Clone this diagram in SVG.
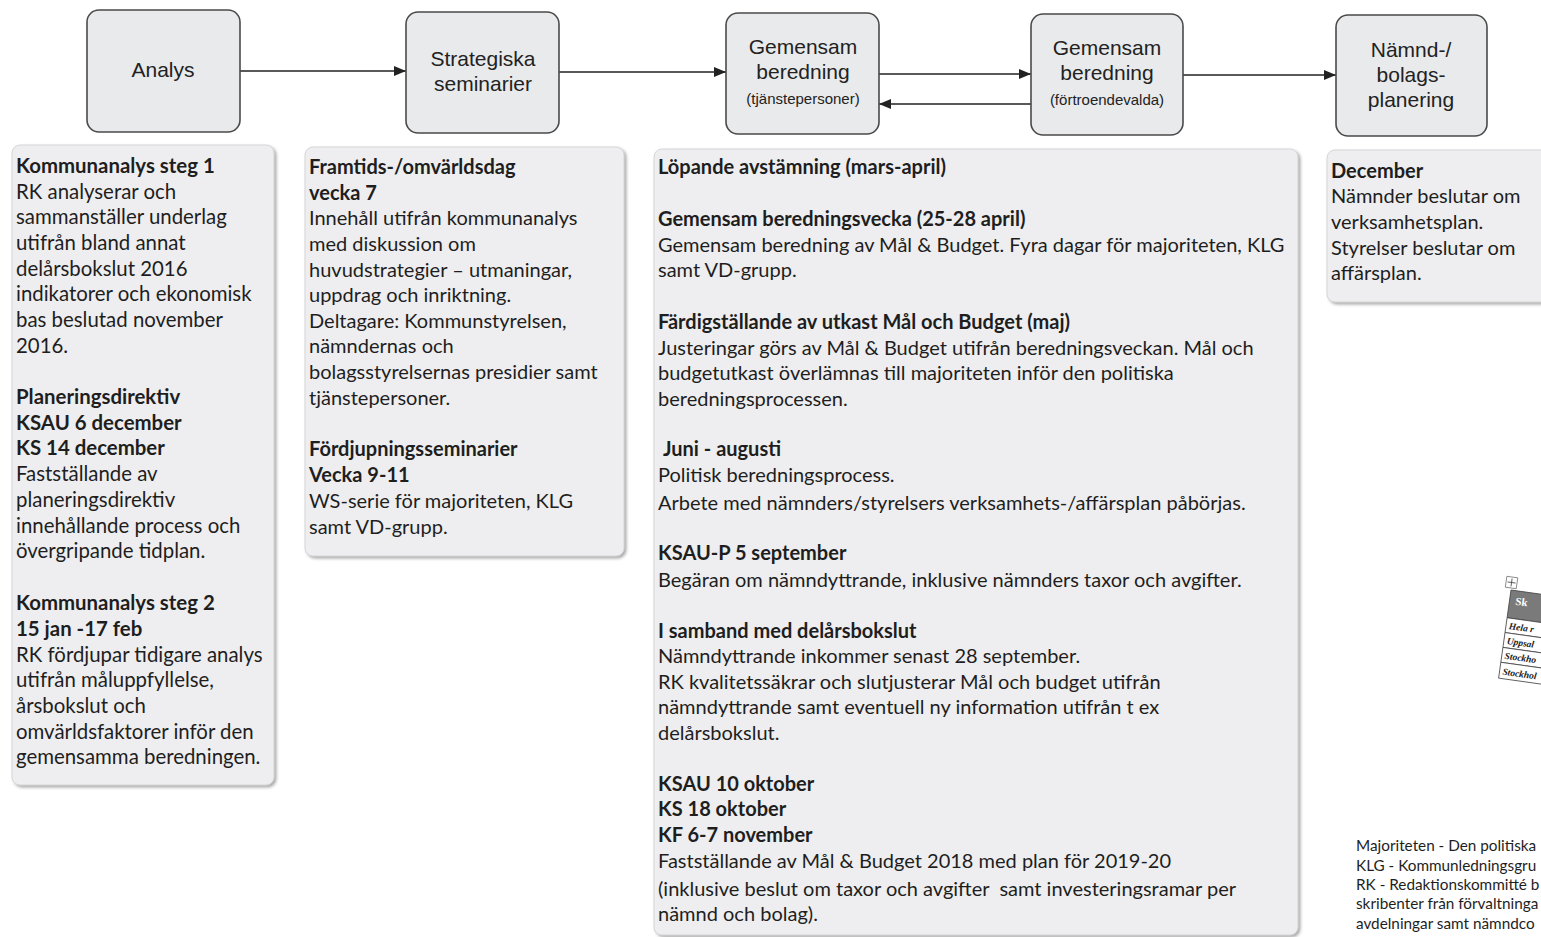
<svg xmlns="http://www.w3.org/2000/svg" width="1541" height="937" viewBox="0 0 1541 937">
<defs>
<style>
.box{fill:#e9eaec;stroke:#4a4a4a;stroke-width:1.6}
.bt{font-family:"Liberation Sans",Arial,sans-serif;font-size:21px;fill:#222;text-anchor:middle}
.bs{font-size:15px}
.panel{fill:#eeeef0;stroke:#d6d6d8;stroke-width:1;filter:url(#sh)}
.pt{font-family:Lato,"Open Sans",sans-serif;font-size:20px;fill:#1e1e1e}
.p1{font-size:20.4px}
.b{font-weight:bold}
.conn{stroke:#222;stroke-width:1.6;fill:none;marker-end:url(#ah)}
.note{font-family:Lato,"Open Sans",sans-serif;font-size:15.3px;fill:#1e1e1e}
.tr{font-family:"Liberation Serif",serif;font-size:9.5px;font-style:italic;font-weight:bold;fill:#222}
</style>
<marker id="ah" viewBox="0 0 12 10" refX="12" refY="5" markerWidth="12" markerHeight="10" markerUnits="userSpaceOnUse" orient="auto">
<path d="M0,0 L12,5 L0,10 z" fill="#222"/>
</marker>
<filter id="sh" x="-5%" y="-5%" width="110%" height="110%">
<feDropShadow dx="2" dy="2" stdDeviation="1.5" flood-color="#888" flood-opacity="0.7"/>
</filter>
</defs>
<rect width="1541" height="937" fill="#fff"/>

<g id="connectors">
<line class="conn" x1="240" y1="71" x2="406" y2="71"/>
<line class="conn" x1="559" y1="72" x2="726" y2="72"/>
<line class="conn" x1="879" y1="74" x2="1031" y2="74"/>
<line class="conn" x1="1031" y1="104" x2="879" y2="104"/>
<line class="conn" x1="1183" y1="75" x2="1336" y2="75"/>
</g>

<g id="node-analys">
<rect class="box" x="87" y="10" width="153" height="122" rx="12"/>
<text class="bt" x="163" y="77">Analys</text>
</g>
<g id="node-strategiska">
<rect class="box" x="406" y="12" width="153" height="121" rx="12"/>
<text class="bt" x="483" y="66">Strategiska</text>
<text class="bt" x="483" y="91">seminarier</text>
</g>
<g id="node-gem-tjanstepersoner">
<rect class="box" x="726" y="13" width="153" height="121" rx="12"/>
<text class="bt" x="803" y="54">Gemensam</text>
<text class="bt" x="803" y="79">beredning</text>
<text class="bt bs" x="803" y="104">(tjänstepersoner)</text>
</g>
<g id="node-gem-fortroendevalda">
<rect class="box" x="1031" y="14" width="152" height="121" rx="12"/>
<text class="bt" x="1107" y="55">Gemensam</text>
<text class="bt" x="1107" y="80">beredning</text>
<text class="bt bs" x="1107" y="105">(förtroendevalda)</text>
</g>
<g id="node-namnd">
<rect class="box" x="1336" y="15" width="151" height="121" rx="12"/>
<text class="bt" x="1411" y="57">Nämnd-/</text>
<text class="bt" x="1411" y="82">bolags-</text>
<text class="bt" x="1411" y="107">planering</text>
</g>

<g id="panel-analys">
<rect class="panel" x="12" y="145" width="262" height="640" rx="8"/>
<text class="pt p1">
<tspan x="16" y="173" class="b">Kommunanalys steg 1</tspan>
<tspan x="16" y="199">RK analyserar och</tspan>
<tspan x="16" y="224">sammanställer underlag</tspan>
<tspan x="16" y="250">utifrån bland annat</tspan>
<tspan x="16" y="276">delårsbokslut 2016</tspan>
<tspan x="16" y="301">indikatorer och ekonomisk</tspan>
<tspan x="16" y="327">bas beslutad november</tspan>
<tspan x="16" y="353">2016.</tspan>
<tspan x="16" y="404" class="b">Planeringsdirektiv</tspan>
<tspan x="16" y="430" class="b">KSAU 6 december</tspan>
<tspan x="16" y="455" class="b">KS 14 december</tspan>
<tspan x="16" y="481">Fastställande av</tspan>
<tspan x="16" y="507">planeringsdirektiv</tspan>
<tspan x="16" y="533">innehållande process och</tspan>
<tspan x="16" y="558">övergripande tidplan.</tspan>
<tspan x="16" y="610" class="b">Kommunanalys steg 2</tspan>
<tspan x="16" y="636" class="b">15 jan -17 feb</tspan>
<tspan x="16" y="662">RK fördjupar tidigare analys</tspan>
<tspan x="16" y="687">utifrån måluppfyllelse,</tspan>
<tspan x="16" y="713">årsbokslut och</tspan>
<tspan x="16" y="739">omvärldsfaktorer inför den</tspan>
<tspan x="16" y="764">gemensamma beredningen.</tspan>
</text>
</g>

<g id="panel-strategiska">
<rect class="panel" x="305" y="147" width="319" height="409" rx="8"/>
<text class="pt">
<tspan x="309" y="174" class="b">Framtids-/omvärldsdag</tspan>
<tspan x="309" y="200" class="b">vecka 7</tspan>
<tspan x="309" y="225">Innehåll utifrån kommunanalys</tspan>
<tspan x="309" y="251">med diskussion om</tspan>
<tspan x="309" y="277">huvudstrategier – utmaningar,</tspan>
<tspan x="309" y="302">uppdrag och inriktning.</tspan>
<tspan x="309" y="328">Deltagare: Kommunstyrelsen,</tspan>
<tspan x="309" y="353">nämndernas och</tspan>
<tspan x="309" y="379">bolagsstyrelsernas presidier samt</tspan>
<tspan x="309" y="405">tjänstepersoner.</tspan>
<tspan x="309" y="456" class="b">Fördjupningsseminarier</tspan>
<tspan x="309" y="482" class="b">Vecka 9-11</tspan>
<tspan x="309" y="508">WS-serie för majoriteten, KLG</tspan>
<tspan x="309" y="534">samt VD-grupp.</tspan>
</text>
</g>

<g id="panel-gemensam">
<rect class="panel" x="654" y="149" width="644" height="786" rx="8"/>
<text class="pt">
<tspan x="658" y="174" class="b">Löpande avstämning (mars-april)</tspan>
<tspan x="658" y="226" class="b">Gemensam beredningsvecka (25-28 april)</tspan>
<tspan x="658" y="252">Gemensam beredning av Mål &amp; Budget. Fyra dagar för majoriteten, KLG</tspan>
<tspan x="658" y="277">samt VD-grupp.</tspan>
<tspan x="658" y="329" class="b">Färdigställande av utkast Mål och Budget (maj)</tspan>
<tspan x="658" y="355">Justeringar görs av Mål &amp; Budget utifrån beredningsveckan. Mål och</tspan>
<tspan x="658" y="380">budgetutkast överlämnas till majoriteten inför den politiska</tspan>
<tspan x="658" y="406">beredningsprocessen.</tspan>
<tspan x="663" y="456" class="b">Juni - augusti</tspan>
<tspan x="658" y="482">Politisk beredningsprocess.</tspan>
<tspan x="658" y="510">Arbete med nämnders/styrelsers verksamhets-/affärsplan påbörjas.</tspan>
<tspan x="658" y="560" class="b">KSAU-P 5 september</tspan>
<tspan x="658" y="587">Begäran om nämndyttrande, inklusive nämnders taxor och avgifter.</tspan>
<tspan x="658" y="638" class="b">I samband med delårsbokslut</tspan>
<tspan x="658" y="663">Nämndyttrande inkommer senast 28 september.</tspan>
<tspan x="658" y="689">RK kvalitetssäkrar och slutjusterar Mål och budget utifrån</tspan>
<tspan x="658" y="714">nämndyttrande samt eventuell ny information utifrån t ex</tspan>
<tspan x="658" y="740">delårsbokslut.</tspan>
<tspan x="658" y="791" class="b">KSAU 10 oktober</tspan>
<tspan x="658" y="816" class="b">KS 18 oktober</tspan>
<tspan x="658" y="842" class="b">KF 6-7 november</tspan>
<tspan x="658" y="868">Fastställande av Mål &amp; Budget 2018 med plan för 2019-20</tspan>
<tspan x="658" y="896" xml:space="preserve">(inklusive beslut om taxor och avgifter  samt investeringsramar per</tspan>
<tspan x="658" y="921">nämnd och bolag).</tspan>
</text>
</g>

<g id="panel-namnd">
<rect class="panel" x="1327" y="150" width="230" height="152" rx="8"/>
<text class="pt">
<tspan x="1331" y="178" class="b">December</tspan>
<tspan x="1331" y="203">Nämnder beslutar om</tspan>
<tspan x="1331" y="229">verksamhetsplan.</tspan>
<tspan x="1331" y="255">Styrelser beslutar om</tspan>
<tspan x="1331" y="280">affärsplan.</tspan>
</text>
</g>

<g id="table-fragment" transform="translate(1511,590) rotate(8)">
<rect x="-6" y="-13" width="11" height="11" fill="#fff" stroke="#777" stroke-width="0.8"/>
<path d="M-0.5,-11.5 V-3.5 M-4.5,-7.5 H3.5" stroke="#555" stroke-width="0.9"/>
<rect x="0" y="0" width="70" height="28" fill="#7a7a7a" stroke="#444" stroke-width="0.8"/>
<text x="6" y="14" font-family="'Liberation Serif',serif" font-size="11" font-weight="bold" fill="#fff">Sk</text>
<g fill="#fff" stroke="#444" stroke-width="0.8">
<rect x="0" y="28" width="70" height="15"/>
<rect x="0" y="43" width="70" height="15"/>
<rect x="0" y="58" width="70" height="15"/>
<rect x="0" y="73" width="70" height="16"/>
</g>
<text class="tr" x="3" y="39">Hela r</text>
<text class="tr" x="3" y="54">Uppsal</text>
<text class="tr" x="3" y="69">Stockho</text>
<text class="tr" x="3" y="85">Stockhol</text>
</g>

<g id="legend" class="note">
<text x="1356" y="851">Majoriteten - Den politiska</text>
<text x="1356" y="871">KLG - Kommunledningsgru</text>
<text x="1356" y="890">RK - Redaktionskommitté b</text>
<text x="1356" y="909">skribenter från förvaltninga</text>
<text x="1356" y="929">avdelningar samt nämndco</text>
</g>
</svg>
